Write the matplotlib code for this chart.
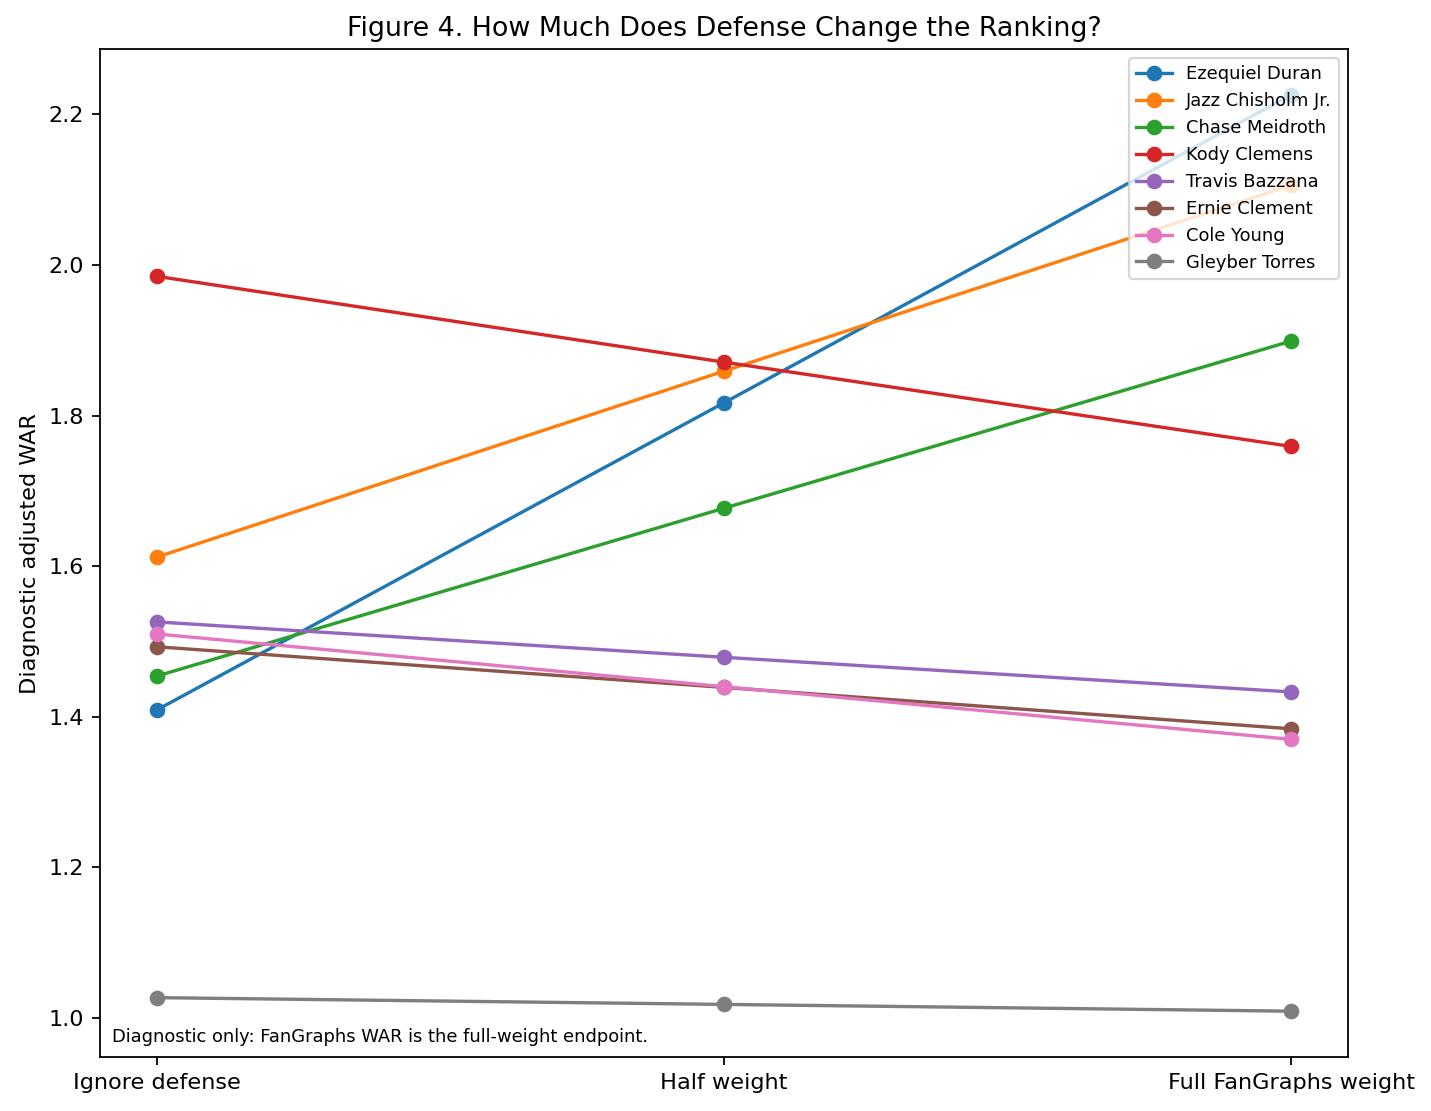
import matplotlib
matplotlib.use("Agg")
import matplotlib.pyplot as plt

scenarios = ["Ignore defense", "Half weight", "Full FanGraphs weight"]
players = ["Ezequiel Duran", "Jazz Chisholm Jr.", "Chase Meidroth", "Kody Clemens",
           "Travis Bazzana", "Ernie Clement", "Cole Young", "Gleyber Torres"]
duran = [1.409, 1.817, 2.226]
chisholm = [1.612, 1.859, 2.106]
meidroth = [1.454, 1.677, 1.899]
clemens = [1.985, 1.871, 1.759]
bazzana = [1.526, 1.479, 1.433]
clement = [1.493, 1.439, 1.384]
young = [1.510, 1.440, 1.370]
torres = [1.027, 1.018, 1.009]
series = [duran, chisholm, meidroth, clemens, bazzana, clement, young, torres]

DPI = 161
W, H = 1431, 1111
fig, ax = plt.subplots(figsize=(W / DPI, H / DPI), dpi=DPI)
fig.subplots_adjust(left=100 / W, right=1348 / W, top=1 - 49 / H, bottom=1 - 1057 / H)
x = range(len(scenarios))
for name, vals in zip(players, series):
    ax.plot(x, vals, marker="o", label=name)

ax.set_xticks(list(x))
ax.set_xticklabels(scenarios)
ax.set_ylabel("Diagnostic adjusted WAR")
ax.set_title("Figure 4. How Much Does Defense Change the Ranking?")
ax.legend(fontsize=8, loc="upper right")
ax.text(0.01, 0.015, "Diagnostic only: FanGraphs WAR is the full-weight endpoint.",
        transform=ax.transAxes, fontsize=8)
fig.savefig("out.png", dpi=DPI)
